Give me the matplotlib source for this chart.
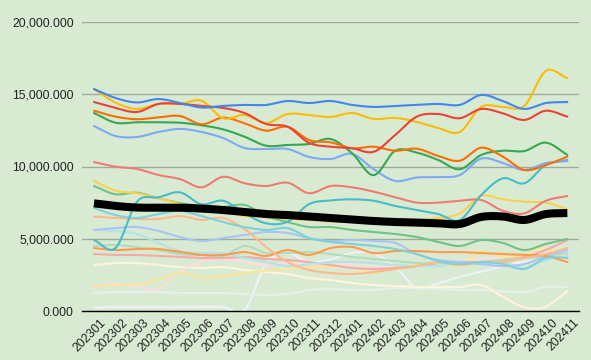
import matplotlib
matplotlib.use("Agg")
import matplotlib.pyplot as plt
import matplotlib.ticker as mticker
import matplotlib.transforms as mtrans
import numpy as np

plt.rcParams['font.family'] = ['Liberation Sans', 'DejaVu Sans']

months = ['202301', '202302', '202303', '202304', '202305', '202306', '202307', '202308',
          '202309', '202310', '202311', '202312', '202401', '202402', '202403', '202404',
          '202405', '202406', '202407', '202408', '202409', '202410', '202411']

# values (thousands)
blue = [15.36, 14.74, 14.43, 14.67, 14.39, 14.08, 14.19, 14.26, 14.26, 14.53, 14.39, 14.53,
        14.26, 14.12, 14.19, 14.26, 14.33, 14.26, 14.95, 14.53, 13.98, 14.39, 14.46]
red = [14.46, 14.05, 13.77, 14.33, 14.33, 14.19, 14.05, 13.70, 12.94, 12.75, 11.63, 11.37,
       11.26, 11.02, 12.18, 13.45, 13.63, 13.34, 13.98, 13.68, 13.22, 13.86, 13.45]
yellow = [15.36, 14.42, 13.98, 14.33, 14.33, 14.55, 13.34, 13.56, 13.01, 13.63, 13.56, 13.43,
          13.70, 13.29, 13.36, 13.08, 12.66, 12.39, 14.12, 14.12, 14.19, 16.61, 16.12]
green = [13.70, 13.03, 13.06, 13.06, 13.03, 12.85, 12.57, 12.06, 11.44, 11.49, 11.56, 11.90,
         10.91, 9.40, 11.09, 10.96, 10.45, 9.81, 10.80, 11.09, 11.07, 11.65, 10.80]
orange = [13.86, 13.45, 13.27, 13.40, 13.49, 12.92, 13.38, 12.99, 12.48, 12.75, 11.83, 11.67,
          11.26, 11.37, 11.09, 11.23, 10.73, 10.40, 11.30, 10.68, 9.76, 10.10, 10.68]
teal = [4.91, 4.36, 7.56, 7.87, 8.21, 7.38, 7.63, 6.76, 6.07, 6.18, 7.40, 7.65,
        7.73, 7.63, 7.27, 6.99, 6.71, 6.30, 8.03, 9.18, 8.84, 10.10, 10.45]
light_blue = [12.80, 12.11, 12.04, 12.39, 12.60, 12.39, 11.97, 11.28, 11.21, 11.21, 10.66, 10.52,
              10.87, 9.81, 9.00, 9.24, 9.27, 9.41, 10.55, 10.24, 9.76, 10.24, 10.38]
light_red = [10.31, 9.99, 9.83, 9.41, 9.13, 8.56, 9.29, 8.84, 8.65, 8.88, 8.15, 8.65,
             8.56, 8.26, 7.87, 7.50, 7.50, 7.63, 7.68, 6.94, 6.76, 7.63, 7.96]
light_yellow = [9.00, 8.33, 8.15, 7.80, 7.40, 7.13, 6.87, 6.57, 6.51, 6.37, 6.30, 6.18,
                6.16, 6.09, 6.16, 6.30, 6.44, 6.76, 7.96, 7.73, 7.56, 7.50, 7.04]
light_green = [8.65, 8.08, 8.19, 7.80, 7.47, 7.27, 7.20, 7.34, 6.57, 6.16, 5.81, 5.81,
               5.61, 5.47, 5.33, 5.12, 4.78, 4.50, 4.91, 4.71, 4.22, 4.64, 4.98]
light_teal = [7.13, 6.64, 6.44, 6.71, 6.92, 6.57, 6.16, 5.81, 5.61, 5.74, 5.05, 4.78,
              4.64, 4.50, 4.29, 3.94, 3.46, 3.25, 3.39, 3.25, 2.91, 3.67, 3.67]
peach = [6.53, 6.44, 6.37, 6.37, 6.57, 6.30, 6.44, 5.67, 4.43, 3.39, 2.84, 2.63,
         2.56, 2.70, 2.91, 3.11, 3.39, 3.18, 3.39, 3.39, 3.67, 3.94, 4.36]
orange2 = [4.36, 4.22, 4.29, 4.29, 4.08, 3.88, 3.88, 4.08, 3.81, 4.22, 3.88, 4.36,
           4.43, 4.01, 4.15, 4.15, 4.08, 4.08, 4.01, 3.94, 3.88, 3.81, 3.39]
pale_blue = [5.61, 5.74, 5.81, 5.54, 5.12, 4.84, 5.05, 5.26, 5.47, 5.40, 5.05, 4.84,
             4.91, 4.84, 4.71, 3.94, 3.53, 3.39, 3.25, 3.11, 3.25, 3.81, 4.22]
pale_teal = [5.61, 5.54, 5.33, 4.71, 4.15, 4.01, 4.01, 3.67, 3.39, 3.11, 3.25, 3.39,
             3.39, 3.32, 3.18, 3.11, 3.11, 3.32, 3.25, 3.39, 2.98, 3.53, 3.81]
pale_green = [4.50, 4.57, 4.43, 4.22, 3.94, 3.88, 3.81, 4.50, 4.01, 4.01, 4.08, 3.94,
              3.74, 3.60, 3.46, 3.32, 3.32, 3.25, 3.39, 3.53, 3.67, 3.81, 4.01]
pale_red = [3.94, 3.88, 3.88, 3.81, 3.74, 3.67, 3.67, 3.74, 3.60, 3.53, 3.39, 3.18,
            2.98, 2.91, 2.98, 3.11, 3.32, 3.39, 3.39, 3.53, 3.74, 4.22, 4.91]
pale_yellow = [1.73, 1.78, 1.85, 2.15, 2.65, 2.30, 2.42, 2.61, 2.79, 2.89, 3.02, 3.07,
               2.98, 2.63, 3.07, 3.18, 3.30, 3.18, 4.10, 3.76, 3.88, 4.34, 3.53]
pale_pink = [1.66, 1.87, 1.68, 1.50, 2.72, 3.41, 3.58, 3.41, 3.20, 3.30, 3.25, 3.18,
             3.25, 3.11, 2.98, 3.25, 3.32, 3.39, 3.67, 3.67, 3.74, 3.81, 3.88]
cream = [3.18, 3.32, 3.32, 3.18, 3.04, 2.98, 3.04, 2.84, 2.70, 2.56, 2.28, 2.15,
         1.94, 1.80, 1.73, 1.66, 1.66, 1.66, 1.80, 0.99, 0.26, 0.30, 1.38]
mist = [1.25, 1.31, 1.31, 1.31, 1.25, 1.25, 1.25, 1.18, 1.11, 1.18, 1.45, 1.52,
        1.45, 1.45, 1.59, 1.59, 1.52, 1.45, 1.45, 1.38, 1.31, 1.66, 1.66]
white = [0.23, 0.28, 0.28, 0.26, 0.26, 0.30, 0.28, 0.07, 3.30, 3.99, 3.41, 3.58,
         4.03, 3.99, 3.07, 1.57, 1.92, 2.37, 2.72, 3.11, 3.41, 3.58, 3.65]
average = [7.45, 7.27, 7.16, 7.15, 7.15, 7.09, 6.99, 6.85, 6.71, 6.64, 6.54, 6.44,
           6.33, 6.23, 6.16, 6.12, 6.07, 6.02, 6.51, 6.54, 6.30, 6.71, 6.78]

series = [
    (white, '#edf2fa'), (mist, '#e4f0e8'), (cream, '#fff4da'), (pale_pink, '#fbdde0'),
    (pale_yellow, '#fde49b'), (pale_red, '#f5aaa4'), (pale_green, '#b1dcbd'),
    (pale_teal, '#b2e3e6'), (pale_blue, '#a8c4f8'), (orange2, '#ff994d'),
    (peach, '#ffb88c'), (light_teal, '#7ed1d7'), (light_green, '#71c287'),
    (light_yellow, '#fcd04f'), (light_red, '#f07b72'), (teal, '#46bdc6'),
    (light_blue, '#7baaf7'), (green, '#34a853'), (orange, '#ff6d01'),
    (yellow, '#fbbc04'), (red, '#ea4335'), (blue, '#4285f4'),
]


def smooth(y, n=16):
    # catmull-rom curve through the points, like the spreadsheet's smoothed lines
    y = np.asarray(y, dtype=float)
    p = np.concatenate([[2 * y[0] - y[1]], y, [2 * y[-1] - y[-2]]])
    xs, ys = [], []
    t = np.linspace(0, 1, n, endpoint=False)
    for i in range(len(y) - 1):
        p0, p1, p2, p3 = p[i], p[i + 1], p[i + 2], p[i + 3]
        seg = 0.5 * (2 * p1 + (-p0 + p2) * t + (2 * p0 - 5 * p1 + 4 * p2 - p3) * t ** 2
                     + (-p0 + 3 * p1 - 3 * p2 + p3) * t ** 3)
        xs.append(i + t)
        ys.append(seg)
    xs.append([len(y) - 1])
    ys.append([y[-1]])
    return np.concatenate(xs), np.concatenate(ys)


bg = '#d9ead3'
fig = plt.figure(figsize=(5.91, 3.60), dpi=100, facecolor=bg)
ax = fig.add_axes([0.139, 0.136, 0.841, 0.803], facecolor=bg)

for vals, col in series:
    sx, sy = smooth(vals)
    ax.plot(sx, sy * 1e3, color=col, linewidth=1.5, solid_capstyle='round')

sx, sy = smooth(average)
ax.plot(sx, sy * 1e3, color='black', linewidth=5.8, solid_capstyle='butt', zorder=5)

ax.set_xlim(-0.55, len(months) - 0.45)
ax.set_ylim(0, 20e3)
ax.set_yticks([0, 5e3, 10e3, 15e3, 20e3])
ax.yaxis.set_major_formatter(mticker.FuncFormatter(lambda v, p: f"{v:,.3f}"))
ax.grid(axis='y', color='#9eaa9a', linewidth=1)
ax.set_axisbelow(True)
for s in ['top', 'right', 'left']:
    ax.spines[s].set_visible(False)
ax.spines['bottom'].set_color('black')
ax.spines['bottom'].set_linewidth(1)
ax.spines['bottom'].set_zorder(6)

ax.set_xticks(range(len(months)))
ax.set_xticklabels(months, rotation=45, ha='right', rotation_mode='anchor')
ax.tick_params(axis='both', length=0, labelsize=8.7, colors='#222222')
ax.tick_params(axis='y', pad=6)
ax.tick_params(axis='x', pad=4)
off = mtrans.ScaledTranslation(6 / 100, 0, fig.dpi_scale_trans)
for lab in ax.get_xticklabels():
    lab.set_transform(lab.get_transform() + off)

fig.savefig('out.png', dpi=100, facecolor=bg)
